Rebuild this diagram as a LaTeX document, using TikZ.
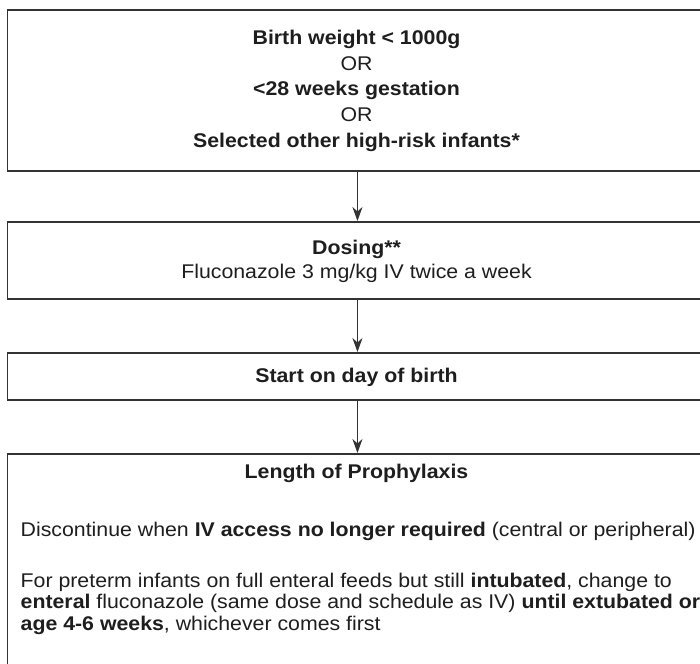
\documentclass[tikz,border=0pt]{standalone}
\usepackage{fontspec}
\setmainfont{Liberation Sans}
\usetikzlibrary{arrows.meta}
\definecolor{linegray}{HTML}{333333}
\definecolor{textcol}{HTML}{1E1E1E}
\newcommand{\sqz}[1]{\scalebox{1}[0.93]{#1}}
\begin{document}
\begin{tikzpicture}[x=1pt,y=-1pt,
  box/.style={draw=linegray, line width=1.9pt, inner sep=0pt, anchor=north west, minimum width=700pt},
  txt/.style={inner sep=0pt, font=\fontsize{21.3}{25.6}\selectfont, text=textcol},
  conn/.style={draw=linegray, line width=1.7pt, -{Stealth[length=14pt,width=10pt,inset=4.5pt]}}]
\useasboundingbox (0,0) rectangle (700,663);
\clip (0,0) rectangle (700,663);
\fill[white] (0,0) rectangle (700,663);
% boxes
\node[box, minimum height=161pt] (b1) at (6.5,9) {};
\node[box, minimum height=77pt] (b2) at (6.5,221) {};
\node[box, minimum height=47pt] (b3) at (6.5,352) {};
\node[box, minimum height=240pt] (b4) at (6.5,453) {};
% connectors
\draw[conn] (b1.south) -- (b2.north);
\draw[conn] (b2.south) -- (b3.north);
\draw[conn] (b3.south) -- (b4.north);
% box 1 text
\node[txt, anchor=base] (t11) at (356.5,45) {\sqz{\textbf{Birth weight < 1000g}}};
\node[txt, anchor=base] (t12) at (356.5,70.5) {\sqz{OR}};
\node[txt, anchor=base] (t13) at (356.5,96) {\sqz{\textbf{<28 weeks gestation}}};
\node[txt, anchor=base] (t14) at (356.5,121.5) {\sqz{OR}};
\node[txt, anchor=base] (t15) at (356.5,147) {\sqz{\textbf{Selected other high-risk infants*}}};
% box 2 text
\node[txt, anchor=base] (t21) at (356.5,254) {\sqz{\textbf{Dosing**}}};
\node[txt, anchor=base] (t22) at (356.5,278.5) {\sqz{Fluconazole 3 mg/kg IV twice a week}};
% box 3 text
\node[txt, anchor=base] (t31) at (356.5,382) {\sqz{\textbf{Start on day of birth}}};
% box 4 text
\node[txt, anchor=base] (t41) at (356.5,478) {\sqz{\textbf{Length of Prophylaxis}}};
\node[txt, anchor=base west] (t42) at (20.5,536) {\sqz{Discontinue when \textbf{IV access no longer required} (central or peripheral)}};
\node[txt, anchor=base west] (t43) at (20.5,587) {\sqz{For preterm infants on full enteral feeds but still \textbf{intubated}, change to}};
\node[txt, anchor=base west] (t44) at (20.5,608.5) {\sqz{\textbf{enteral} fluconazole (same dose and schedule as IV) \textbf{until extubated or}}};
\node[txt, anchor=base west] (t45) at (20.5,630) {\sqz{\textbf{age 4-6 weeks}, whichever comes first}};
\end{tikzpicture}
\end{document}
